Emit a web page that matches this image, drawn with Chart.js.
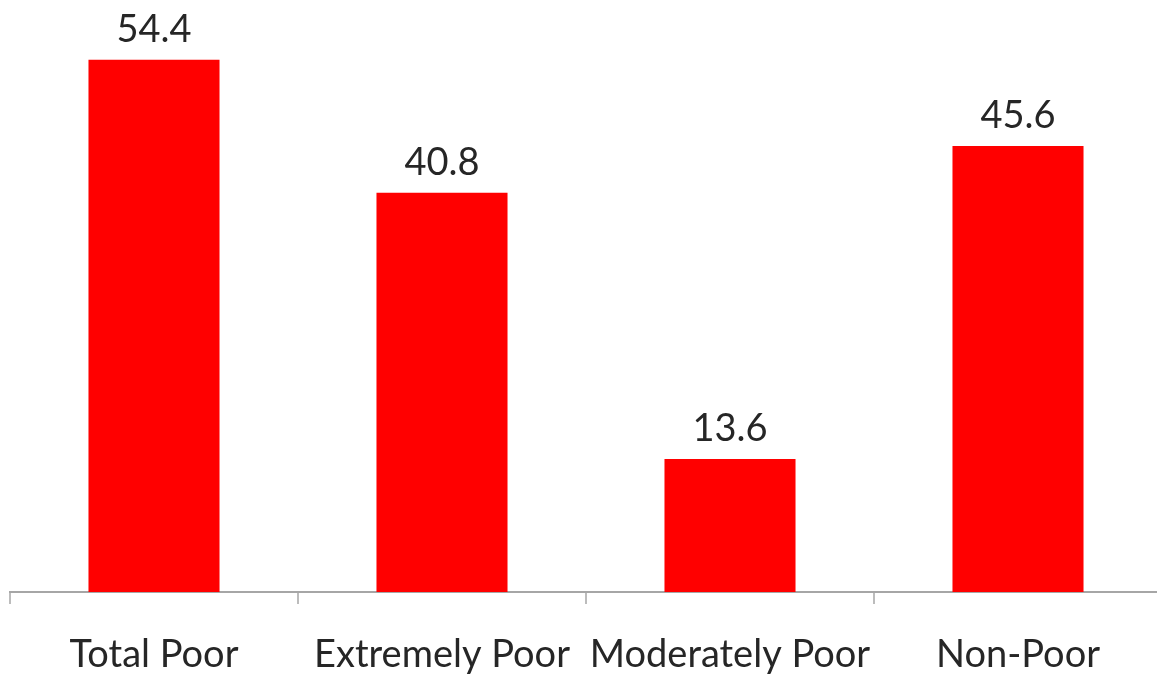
<!DOCTYPE html>
<html>
<head>
<meta charset="utf-8">
<script src="https://cdn.jsdelivr.net/npm/chart.js@4.4.1/dist/chart.umd.min.js"></script>
<style>
  html, body { margin: 0; padding: 0; background: #fff; overflow: hidden; }
  #wrap { width: 1170px; height: 675px; }
</style>
</head>
<body>
<div id="wrap"><canvas id="c"></canvas></div>
<script>
// datos
const categories = ["Total Poor", "Extremely Poor", "Moderately Poor", "Non-Poor"];
const values = [54.4, 40.8, 13.6, 45.6];

const FONT = "Lato, 'Open Sans', sans-serif";

/* etiquetas de valor encima de cada barra */
const valueLabels = {
  id: "valueLabels",
  afterDatasetsDraw(chart) {
    const { ctx } = chart;
    const meta = chart.getDatasetMeta(0);
    ctx.save();
    ctx.font = "38px " + FONT;
    ctx.fillStyle = "#262626";
    ctx.textAlign = "center";
    ctx.textBaseline = "bottom";
    meta.data.forEach((bar, i) => {
      ctx.fillText(values[i].toFixed(1), bar.x, bar.y - 11);
    });
    ctx.restore();
  },
};

new Chart(document.getElementById("c"), {
  type: "bar",
  data: {
    labels: categories,
    datasets: [{
      data: values,
      backgroundColor: "#ff0000",
      borderWidth: 0,
      barPercentage: 0.455,
      categoryPercentage: 1,
    }],
  },
  options: {
    responsive: true,
    maintainAspectRatio: false,
    animation: false,
    layout: { padding: { left: 10, right: 8, top: 5, bottom: 0 } },
    plugins: { legend: { display: false }, tooltip: { enabled: false } },
    scales: {
      x: {
        afterFit(scale) { scale.height = 83; },
        border: { display: true, color: "#a6a6a6", width: 2 },
        grid: { display: true, drawOnChartArea: false, drawTicks: true, tickLength: 12, color: "#bcbcbc", lineWidth: 2, offset: true },
        ticks: { color: "#262626", font: { family: FONT, size: 38 }, padding: 28, maxRotation: 0 },
      },
      y: {
        display: false,
        min: 0,
        max: 60,
      },
    },
  },
  plugins: [valueLabels],
});
</script>
</body>
</html>
